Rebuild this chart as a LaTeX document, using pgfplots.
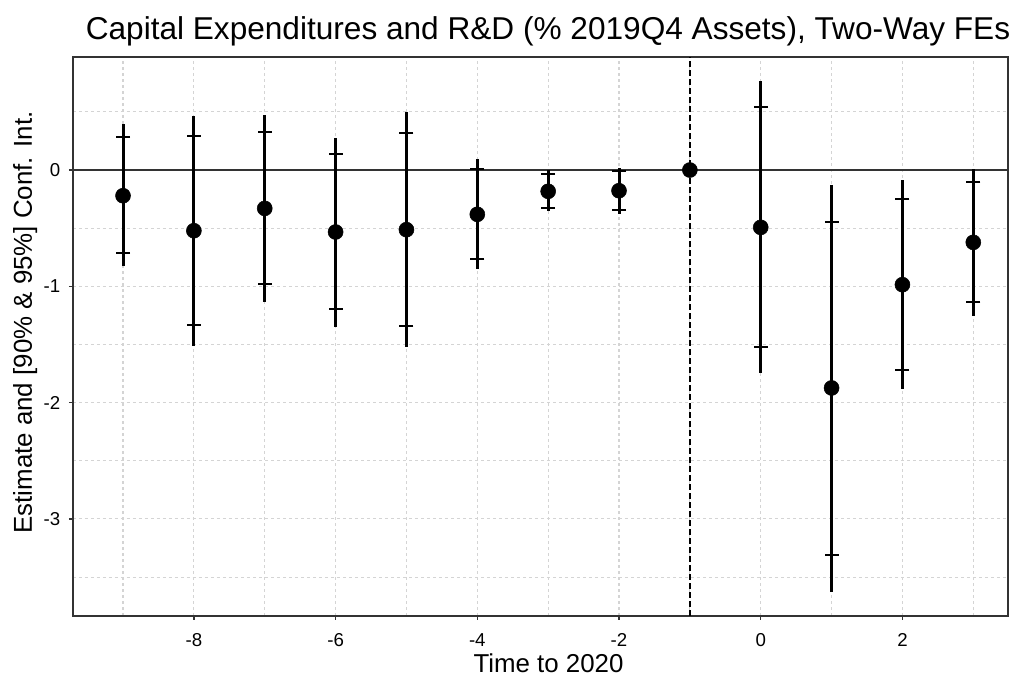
\documentclass[border=0pt]{standalone}
\usepackage{fontspec}
\setmainfont{Liberation Sans}
\usepackage{pgfplots}
\pgfplotsset{compat=1.18}
\usepackage{pgfplotstable}
\newdimen\px
\px=0.75pt
\definecolor{gridc}{HTML}{D4D4D4}
\definecolor{framec}{HTML}{333333}
\pgfplotstableread{
x est lo95 hi95 lo90 hi90
-9 -0.221 -0.826 0.396 -0.717 0.287
-8 -0.522 -1.513 0.467 -1.333 0.292
-7 -0.330 -1.132 0.470 -0.980 0.324
-6 -0.533 -1.347 0.278 -1.198 0.135
-5 -0.513 -1.525 0.499 -1.341 0.315
-4 -0.381 -0.854 0.095 -0.768 0.009
-3 -0.183 -0.353 0.000 -0.330 -0.034
-2 -0.178 -0.376 0.020 -0.341 -0.008
0 -0.493 -1.743 0.765 -1.519 0.539
1 -1.874 -3.628 -0.126 -3.310 -0.444
2 -0.986 -1.886 -0.086 -1.722 -0.250
3 -0.622 -1.253 0.006 -1.138 -0.106
}\data
\pgfplotstableread{
x est
-1 0
}\ref
\begin{document}
\begin{tikzpicture}
\begin{axis}[name=ax,
  scale only axis, width=935\px, height=559\px,
  xmin=-9.706, xmax=3.49, ymin=-3.835, ymax=0.972,
  axis line style={draw=framec, line width=1.1pt},
  xtick={-8,-6,-4,-2,0,2}, minor xtick={-9,-7,-5,-3,-1,1,3},
  ytick={-3,-2,-1,0}, minor ytick={-3.5,-2.5,-1.5,-0.5,0.5},
  tick align=outside, major tick length=4\px, minor tick length=0pt,
  tick style={draw=framec, line width=1.1pt},
  xtick pos=bottom, ytick pos=left,
  grid=both,
  major grid style={draw=gridc, line width=0.8pt, dash pattern=on 3\px off 3\px},
  minor grid style={draw=gridc, line width=0.8pt, dash pattern=on 3\px off 3\px},
  /pgf/number format/assume math mode=true,
  ticklabel style={font=\fontsize{14}{17}\selectfont, text=black},
  xticklabel style={yshift=-9\px},
  yticklabel style={xshift=-4\px},
  clip=false,
]
\draw[framec, line width=1.1pt] (axis cs:-9.706,0) -- (axis cs:3.49,0);
\draw[black, line width=1.1pt, dash pattern=on 6\px off 3\px] (axis cs:-1,-3.835) -- (axis cs:-1,0.972);
\addplot[black, mark=none, draw=none, error bars/.cd, y dir=both, y explicit,
  error mark=none, error bar style={line width=2.25pt, black}]
  table[x=x, y=est, y error plus expr=\thisrow{hi95}-\thisrow{est}, y error minus expr=\thisrow{est}-\thisrow{lo95}] {\data};
\addplot[only marks, mark=-, mark size=7\px, mark options={line width=1.6pt, black}] table[x=x, y=lo90] {\data};
\addplot[only marks, mark=-, mark size=7\px, mark options={line width=1.6pt, black}] table[x=x, y=hi90] {\data};
\addplot[only marks, mark=*, mark size=7.5\px, mark options={fill=black, draw=black}] table[x=x, y=est] {\data};
\addplot[only marks, mark=*, mark size=7.5\px, mark options={fill=black, draw=black}] table[x=x, y=est] {\ref};
\end{axis}
\node[anchor=base, font=\fontsize{23.7}{28}\selectfont] at ([xshift=7.5\px, yshift=17\px]ax.north) {Capital Expenditures and R\&D (\% 2019Q4 Assets), Two-Way FEs};
\node[anchor=base, font=\fontsize{19.4}{23}\selectfont] at ([xshift=8\px, yshift=-56.5\px]ax.south) {Time to 2020};
\node[anchor=base, rotate=90, font=\fontsize{19.4}{23}\selectfont] at ([xshift=-41\px, yshift=14\px]ax.west) {Estimate and [90\% \& 95\%] Conf. Int.};
\pgfresetboundingbox
\path ([xshift=-73\px, yshift=-65\px]ax.south west) rectangle ([xshift=7\px, yshift=57\px]ax.north east);
\end{tikzpicture}
\end{document}
